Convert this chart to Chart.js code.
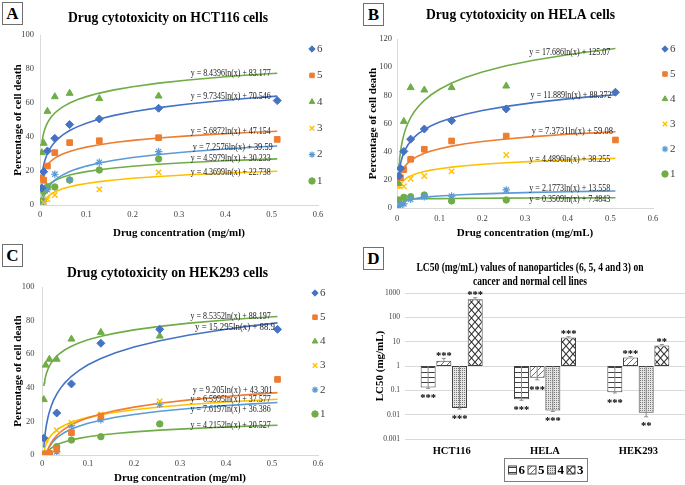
<!DOCTYPE html>
<html>
<head>
<meta charset="utf-8">
<script src="https://cdn.jsdelivr.net/npm/chart.js@4.4.1/dist/chart.umd.min.js"></script>
<style>
html,body{margin:0;padding:0;background:#fff;}
#wrap{position:relative;width:685px;height:485px;overflow:hidden;}
.panel{position:absolute;}
.tag{position:absolute;width:19px;height:21px;border:1px solid #6f6f6f;background:#fff;
  font:bold 17px "Liberation Serif",serif;text-align:center;line-height:21px;color:#000;}
</style>
</head>
<body>
<div id="wrap">
  <div class="panel" style="left:0;top:0;width:342px;height:242px"><canvas id="cA"></canvas></div>
  <div class="panel" style="left:342px;top:0;width:343px;height:242px"><canvas id="cB"></canvas></div>
  <div class="panel" style="left:0;top:242px;width:342px;height:243px"><canvas id="cC"></canvas></div>
  <div class="panel" style="left:342px;top:242px;width:343px;height:243px"><canvas id="cD"></canvas></div>
  <div class="tag" style="left:2px;top:2px">A</div>
  <div class="tag" style="left:363px;top:3px">B</div>
  <div class="tag" style="left:2px;top:244px">C</div>
  <div class="tag" style="left:363px;top:247px">D</div>
</div>
<script>
// concentrations (mg/ml), one value per dilution
const CONC = [0.004, 0.008, 0.016, 0.032, 0.064, 0.128, 0.256, 0.512];
const SERIES = ["6", "5", "4", "3", "2", "1"];

// % cell death — HCT116
const HCT_6 = [10, 19.6, 31.8, 39.2, 47.3, 50.6, 56.9, 61.4];
const HCT_5 = [16, 14.5, 22.9, 30.8, 36.7, 37.8, 39.6, 38.6];
const HCT_4 = [30.8, 36.3, 55.1, 63.7, 65.7, 62.6, 64.1, null];
const HCT_3 = [null, 1.5, 3.4, 5.9, null, 9.2, 19.2, null];
const HCT_2 = [0, 2, 9, 18.1, 14.7, 25.1, 31.4, null];
const HCT_1 = [2.4, 8, 10.8, 10.6, 14.7, 20.6, 27.1, null];
const HCT_SLOPE = [9.7345, 5.6872, 8.4396, 4.3699, 7.2576, 4.5979];
const HCT_INTER = [70.546, 47.154, 83.177, 22.738, 39.59, 30.233];

// % cell death — HELA
const HELA_6 = [22.7, 28.2, 40.2, 48.9, 56.1, 62, 70.3, 82.2];
const HELA_5 = [null, 21.5, 27.3, 34.6, 41.7, 47.6, 51.1, 48.3];
const HELA_4 = [17.5, null, 61.5, 85.5, 83.8, 85.5, 86.6, null];
const HELA_3 = [16, null, 15.4, 20.8, 22.7, 26, 37.6, null];
const HELA_2 = [1, 2, 3, 6.2, 8, 8.5, 12.8, null];
const HELA_1 = [5.7, null, 7.6, 8, 9.2, 5, 5.7, null];
const HELA_SLOPE = [11.889, 7.3731, 17.686, 4.4896, 2.1773, 0.3509];
const HELA_INTER = [88.372, 59.08, 125.07, 38.255, 13.558, 7.4843];

// % cell death — HEK293
const HEK_6 = [10, null, null, 25, 42.3, 66.5, 74.8, 74.8];
const HEK_5 = [0.5, 0.5, 1, 3.4, 13.3, 23.2, null, 45];
const HEK_4 = [33, 53.5, 57, 57, 69, 73, 70.8, null];
const HEK_3 = [1, 9, null, 14.7, 19.3, 24, 32, null];
const HEK_2 = [0, 0, 0.5, 2, 17.5, 21, 30.2, null];
const HEK_1 = [0.5, 0.5, 1, 5, 8.9, 10.9, 18.5, null];
const HEK_SLOPE = [15.295, 9.205, 8.5352, 6.5995, 7.6197, 4.2152];
const HEK_INTER = [88.9, 43.301, 88.197, 37.577, 36.386, 20.527];

// x positions at which the log trendlines are traced
const TREND_X = [0.004, 0.005, 0.006, 0.008, 0.01, 0.013, 0.016, 0.02, 0.025, 0.032, 0.04,
  0.05, 0.064, 0.08, 0.1, 0.128, 0.16, 0.2, 0.256, 0.32, 0.4, 0.45, 0.512];

// LC50 (mg/mL) — panel D
const CELL_LINES = ["HCT116", "HELA", "HEK293"];
const D_SERIES = ["6", "5", "4", "3"];
const LC50_6 = [0.13, 0.043, 0.083];
const LC50_5 = [1.65, 0.33, 2.26];
const LC50_4 = [0.019, 0.015, 0.012];
const LC50_3 = [560, 14.9, 7.0];
const ERR_6 = [0.01, 0.004, 0.005];
const ERR_5 = [0.4, 0.06, 0.2];
const ERR_4 = [0.002, 0.0015, 0.0038];
const ERR_3 = [80, 1, 0.6];
const STARS_6 = ["***", "***", "***"];
const STARS_5 = ["***", "***", "***"];
const STARS_4 = ["***", "***", "**"];
const STARS_3 = ["***", "***", "**"];
const LC50_TICKS = [0.001, 0.01, 0.1, 1, 10, 100, 1000];

const SERIF = '"Liberation Serif", "Times New Roman", serif';
Chart.defaults.font.family = SERIF;
Chart.defaults.color = '#404040';

const STYLE = [
  {color: '#4472C4', point: 'rectRot', r: 4, bw: 1},
  {color: '#ED7D31', point: 'rect', r: 4, bw: 1},
  {color: '#70AD47', point: 'triangle', r: 4, bw: 1},
  {color: '#FFC000', point: 'crossRot', r: 3.8, bw: 1.4},
  {color: '#5B9BD5', point: 'star', r: 3.8, bw: 1.2},
  {color: '#70AD47', point: 'circle', r: 3.2, bw: 1},
];

// draw text, squeezed horizontally if wider than maxW
function fitText(ctx, text, x, y, font, maxW, color, align){
  ctx.save();
  ctx.font = font; ctx.fillStyle = color; ctx.textBaseline = 'middle';
  const w = ctx.measureText(text).width;
  const sx = maxW && w > maxW ? maxW / w : 1;
  ctx.translate(x, y); ctx.scale(sx, 1);
  ctx.textAlign = align || 'center';
  ctx.fillText(text, 0, 0);
  ctx.restore();
}

function scatterPanel(id, p){
  const canvas = document.getElementById(id);
  const W = canvas.parentNode.clientWidth, H = canvas.parentNode.clientHeight;
  const datasets = [];
  p.values.forEach((vals, i) => {
    const st = STYLE[i];
    datasets.push({
      label: SERIES[i],
      data: CONC.map((x, j) => ({x, y: vals[j]})).filter(d => d.y !== null),
      pointStyle: st.point, pointRadius: st.r, pointBorderWidth: st.bw,
      backgroundColor: st.color, borderColor: st.color, order: 0,
    });
  });
  p.slope.forEach((a, i) => {
    datasets.push({
      label: 'trend ' + SERIES[i], showLine: true,
      data: TREND_X.map(x => ({x, y: a * Math.log(x) + p.inter[i]})),
      borderColor: STYLE[i].color, borderWidth: 1.6, pointRadius: 0, order: 1,
    });
  });

  const deco = {
    id: 'deco' + id,
    afterDraw(chart){
      const ctx = chart.ctx, xs = chart.scales.x, ys = chart.scales.y;
      // trendline equations
      p.eq.forEach((e, i) => {
        const txt = `y = ${p.slope[i]}ln(x) + ${p.inter[i]}`;
        fitText(ctx, txt, xs.getPixelForValue(e[0]), ys.getPixelForValue(e[1]),
          `9.5px ${SERIF}`, p.eqW, '#1a1a1a');
      });
      // title
      fitText(ctx, p.title, p.titlePos[0], p.titlePos[1], `bold 15px ${SERIF}`, p.titlePos[2], '#000');
      // legend
      SERIES.forEach((s, i) => {
        const st = STYLE[i], y = p.leg.y0 + i * p.leg.step;
        ctx.save();
        ctx.fillStyle = st.color; ctx.strokeStyle = st.color; ctx.lineWidth = st.bw;
        Chart.helpers.drawPoint(ctx, {pointStyle: st.point, radius: 3.2, rotation: 0, borderWidth: st.bw}, p.leg.x, y);
        ctx.restore();
        fitText(ctx, s, p.leg.x + 5, y, `11px ${SERIF}`, 0, '#404040', 'left');
      });
    }
  };

  new Chart(canvas, {
    type: 'scatter',
    data: {datasets},
    options: {
      responsive: true, maintainAspectRatio: false, animation: false, events: [],
      layout: {padding: {left: 0, top: p.area.top, right: W - p.area.right, bottom: 0}},
      scales: {
        x: {
          type: 'linear', min: 0, max: 0.6,
          afterFit: s => { s.height = H - p.area.bottom; },
          ticks: {stepSize: 0.1, padding: p.pad.xt, font: {size: 8.5}, color: '#404040'},
          grid: {display: false, drawTicks: false},
          border: {display: true, color: '#d9d9d9'},
          title: {display: true, text: p.xTitle, color: '#000', font: {size: 11, weight: 'bold'},
            padding: {top: 0, bottom: p.pad.xtitle}},
        },
        y: {
          type: 'linear', min: 0, max: p.yMax,
          afterFit: s => { s.width = p.area.left; },
          ticks: {stepSize: 20, padding: p.pad.yt, font: {size: 8.5}, color: '#404040'},
          grid: {display: false, drawTicks: false},
          border: {display: true, color: '#d9d9d9'},
          title: {display: true, text: 'Percentage of cell death', color: '#000', font: {size: 11, weight: 'bold'},
            padding: {top: p.pad.ytitle, bottom: 0}},
        },
      },
      plugins: {legend: {display: false}, title: {display: false}, tooltip: {enabled: false}},
    },
    plugins: [deco],
  });
}

scatterPanel('cA', {
  values: [HCT_6, HCT_5, HCT_4, HCT_3, HCT_2, HCT_1], slope: HCT_SLOPE, inter: HCT_INTER,
  yMax: 100, area: {left: 40, right: 318, top: 35, bottom: 205},
  pad: {xt: 5, xtitle: 2.4, yt: 6, ytitle: 11.4},
  xTitle: 'Drug concentration (mg/ml)',
  title: 'Drug cytotoxicity on HCT116 cells', titlePos: [168, 18, 200],
  eq: [[0.4116, 63.7], [0.4116, 43.1], [0.4116, 77.5], [0.4116, 19], [0.416, 33.9], [0.4116, 27.1]], eqW: 80,
  leg: {x: 312, y0: 49, step: 26.4},
});

scatterPanel('cB', {
  values: [HELA_6, HELA_5, HELA_4, HELA_3, HELA_2, HELA_1], slope: HELA_SLOPE, inter: HELA_INTER,
  yMax: 120, area: {left: 55, right: 311, top: 39, bottom: 208},
  pad: {xt: 6, xtitle: 2.1, yt: 5, ytitle: 24.4},
  xTitle: 'Drug concentration (mg/mL)',
  title: 'Drug cytotoxicity on HELA cells', titlePos: [178.5, 15, 189],
  eq: [[0.408, 79.8], [0.411, 54.2], [0.405, 110.3], [0.405, 34.6], [0.405, 14.0], [0.405, 6.2]], eqW: 81,
  leg: {x: 323, y0: 49, step: 25},
});

scatterPanel('cC', {
  values: [HEK_6, HEK_5, HEK_4, HEK_3, HEK_2, HEK_1], slope: HEK_SLOPE, inter: HEK_INTER,
  yMax: 100, area: {left: 42, right: 318, top: 45, bottom: 213},
  pad: {xt: 4, xtitle: 0, yt: 7.5, ytitle: 11.7},
  xTitle: 'Drug concentration (mg/ml)',
  title: 'Drug cytotoxicity on HEK293 cells', titlePos: [167.5, 31.3, 201],
  eq: [[0.4196, 76.0], [0.4145, 38.1], [0.410, 82.7], [0.410, 33.3], [0.410, 26.8], [0.410, 17.5]], eqW: 80,
  leg: {x: 315, y0: 51, step: 24.2},
});

// ---------- panel D : LC50 bars with hatch patterns ----------
function makePattern(kind){
  const c = document.createElement('canvas');
  const g = c.getContext('2d');
  if (kind === 'hlines'){
    c.width = 4; c.height = 5;
    g.fillStyle = '#fff'; g.fillRect(0, 0, 4, 5);
    g.fillStyle = '#404040'; g.fillRect(0, 0, 4, 1);
  } else if (kind === 'diag'){
    c.width = 6; c.height = 6;
    g.fillStyle = '#fff'; g.fillRect(0, 0, 6, 6);
    g.strokeStyle = '#6f6f6f'; g.lineWidth = 1;
    g.beginPath(); g.moveTo(-1, 7); g.lineTo(7, -1); g.moveTo(-1, 1); g.lineTo(1, -1); g.moveTo(5, 7); g.lineTo(7, 5); g.stroke();
  } else if (kind === 'dots'){
    c.width = 2; c.height = 2;
    g.fillStyle = '#e4e4e4'; g.fillRect(0, 0, 2, 2);
    g.fillStyle = '#7a7a7a'; g.fillRect(0, 0, 1, 1);
  } else {
    c.width = 7; c.height = 8;
    g.fillStyle = '#fff'; g.fillRect(0, 0, 7, 8);
    g.strokeStyle = '#303030'; g.lineWidth = 1.1;
    g.beginPath(); g.moveTo(0, 0); g.lineTo(7, 8); g.moveTo(7, 0); g.lineTo(0, 8); g.stroke();
  }
  return g.createPattern(c, 'repeat');
}

(function(){
  const canvas = document.getElementById('cD');
  const H = canvas.parentNode.clientHeight;
  const area = {left: 63, top: 51, bottom: 197};
  const pats = ['hlines', 'diag', 'dots', 'cross'].map(makePattern);
  const vals = [LC50_6, LC50_5, LC50_4, LC50_3];
  const errs = [ERR_6, ERR_5, ERR_4, ERR_3];
  const stars = [STARS_6, STARS_5, STARS_4, STARS_3];

  const datasets = vals.map((v, i) => ({
    label: D_SERIES[i], data: v.map(x => [1, x]),
    backgroundColor: pats[i], borderColor: '#404040', borderWidth: 1, borderSkipped: false,
    categoryPercentage: 0.672, barPercentage: 0.955,
  }));

  const deco = {
    id: 'decoD',
    afterDatasetsDraw(chart){
      const ctx = chart.ctx, ys = chart.scales.y;
      vals.forEach((v, i) => {
        chart.getDatasetMeta(i).data.forEach((bar, j) => {
          const up = v[j] > 1;
          const ye = ys.getPixelForValue(up ? v[j] + errs[i][j] : Math.max(v[j] - errs[i][j], 0.0011));
          ctx.save();
          ctx.strokeStyle = '#8c8c8c'; ctx.lineWidth = 1;
          ctx.beginPath();
          ctx.moveTo(bar.x, bar.y); ctx.lineTo(bar.x, ye);
          ctx.moveTo(bar.x - 2, ye); ctx.lineTo(bar.x + 2, ye);
          ctx.stroke();
          ctx.restore();
          const c = up ? Math.min(ye, bar.y) - 5 : Math.max(ye, bar.y) + 7.5;
          ctx.save();
          ctx.font = `bold 10.5px ${SERIF}`; ctx.fillStyle = '#000';
          ctx.textAlign = 'center'; ctx.textBaseline = 'alphabetic';
          ctx.fillText(stars[i][j], bar.x, c + 5.2);
          ctx.restore();
        });
      });
    },
    afterDraw(chart){
      const ctx = chart.ctx, ca = chart.chartArea;
      fitText(ctx, 'LC50 (mg/mL) values of nanoparticles (6, 5, 4 and 3) on', 188, 26, `bold 12.5px ${SERIF}`, 227, '#000');
      fitText(ctx, 'cancer and normal cell lines', 188, 40, `bold 12.5px ${SERIF}`, 114, '#000');
      // legend box
      const cx = (ca.left + ca.right) / 2, lw = 83, lx = Math.round(cx - lw / 2) + 0.5, ly = 216.5;
      ctx.save();
      ctx.strokeStyle = '#7f7f7f'; ctx.lineWidth = 1;
      ctx.strokeRect(lx, ly, lw, 23);
      D_SERIES.forEach((s, i) => {
        const bx = lx + 4 + i * 19.5, by = ly + 7.5;
        ctx.fillStyle = pats[i]; ctx.fillRect(bx, by, 8, 8);
        ctx.strokeStyle = '#404040'; ctx.strokeRect(bx, by, 8, 8);
        fitText(ctx, s, bx + 10, ly + 12, `bold 13px ${SERIF}`, 0, '#000', 'left');
      });
      ctx.restore();
    }
  };

  new Chart(canvas, {
    type: 'bar',
    data: {labels: CELL_LINES, datasets},
    options: {
      responsive: true, maintainAspectRatio: false, animation: false, events: [],
      layout: {padding: {left: 0, top: area.top, right: 0, bottom: 0}},
      scales: {
        x: {
          afterFit: s => { s.height = H - area.bottom; },
          grid: {display: false, drawTicks: false}, border: {display: false},
          ticks: {padding: 6, color: '#000', font: {size: 10.5, weight: 'bold'}},
        },
        y: {
          type: 'logarithmic', min: 0.001, max: 1000,
          afterFit: s => { s.width = area.left; },
          afterBuildTicks: s => { s.ticks = LC50_TICKS.map(v => ({value: v})); },
          ticks: {autoSkip: false, padding: 5, color: '#404040', font: {size: 7.5}, callback: v => String(v)},
          grid: {color: '#d9d9d9', drawTicks: false}, border: {display: false},
          title: {display: true, text: 'LC50 (mg/mL)', color: '#000', font: {size: 11, weight: 'bold'},
            padding: {top: 31.4, bottom: 0}},
        },
      },
      plugins: {legend: {display: false}, title: {display: false}, tooltip: {enabled: false}},
    },
    plugins: [deco],
  });
})();
</script>
</body>
</html>
